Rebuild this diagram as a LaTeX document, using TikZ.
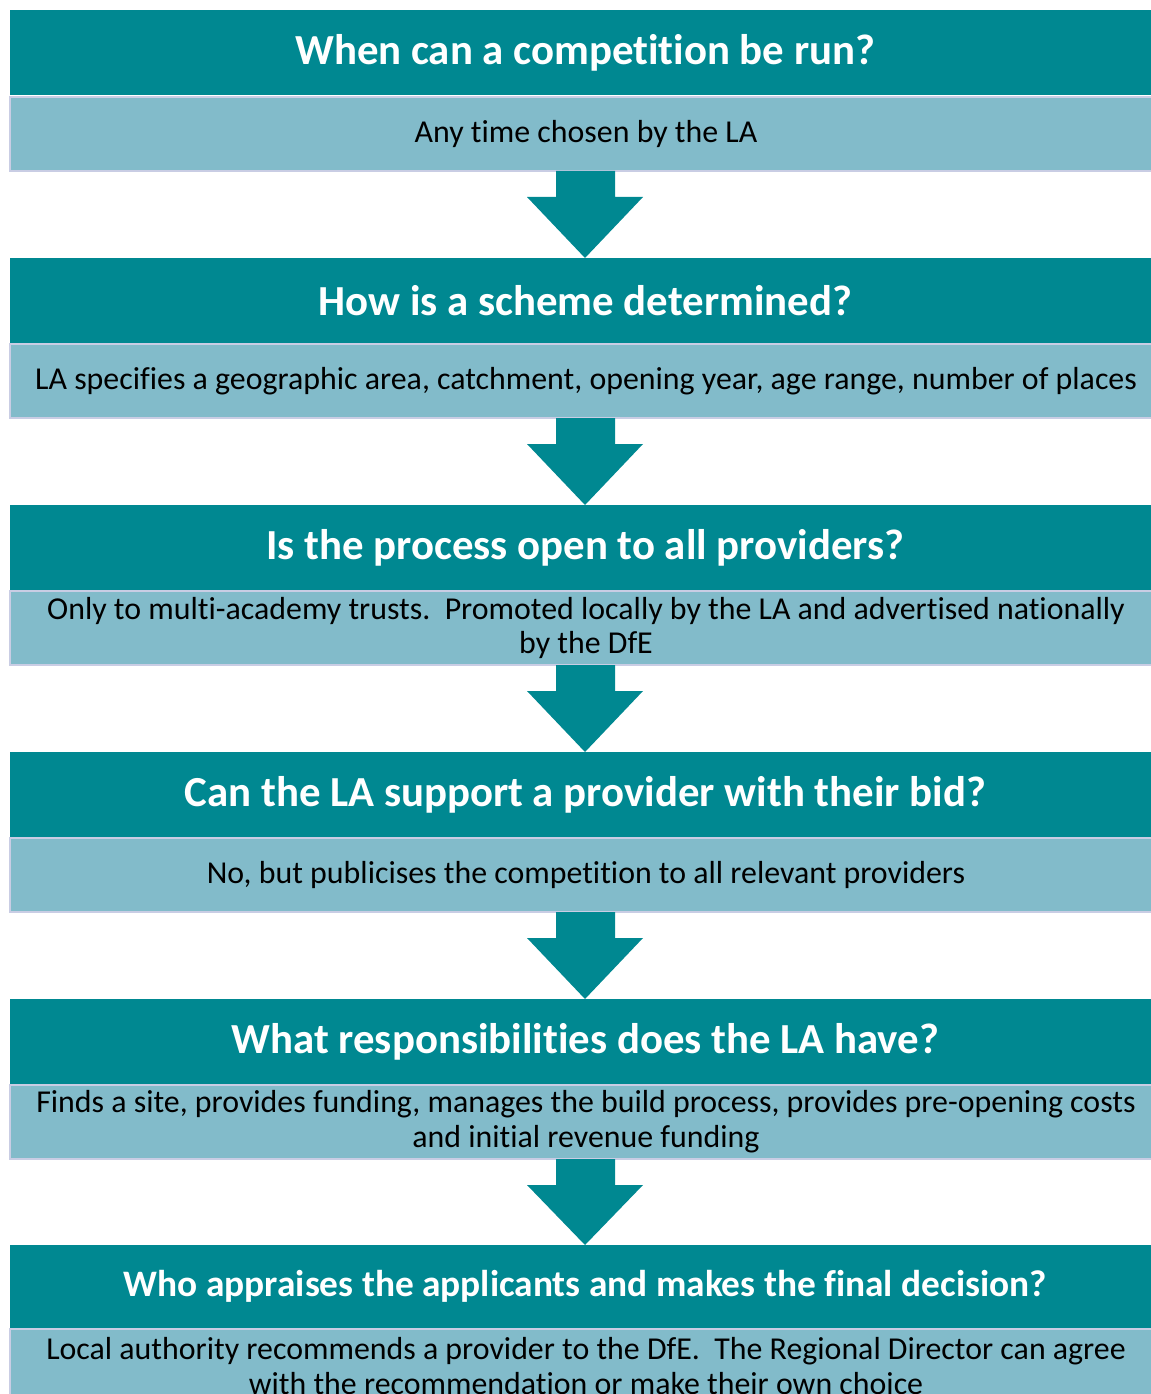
\documentclass[tikz,border=0pt]{standalone}
\usepackage{fontspec}
\setmainfont{Carlito}[Ligatures={NoCommon}]
\definecolor{teal1}{HTML}{008891}
\definecolor{light1}{HTML}{82BBCA}
\definecolor{edge1}{HTML}{C9CDE4}
\begin{document}
\begin{tikzpicture}[x=1bp,y=-1bp,
  head/.style={fill=teal1,draw=none,minimum width=1150bp,minimum height=85bp,inner sep=0pt,
    text=white,font=\fontsize{43}{48}\selectfont\bfseries,anchor=north west},
  body/.style={fill=light1,draw=edge1,line width=2bp,minimum width=1152bp,minimum height=74bp,inner sep=0pt,
    text=black,align=center,font=\fontsize{32}{35}\selectfont,anchor=north west},
  downarrow/.style={fill=teal1,draw=none}]
\useasboundingbox (0,0) rectangle (1150,1394);
\fill[white] (0,0) rectangle (1150,1394);
\def\arr#1#2{\fill[teal1] (556,#1) -- (615,#1) -- (615,#1+26) -- (643,#1+26) -- (585,#2) -- (527,#1+26) -- (556,#1+26) -- cycle;}
\node[head] (h1) at (10,10) {When can a competition be run?};
\node[body] (b1) at (9,96) {Any time chosen by the LA};
\node[head] (h2) at (10,258) {How is a scheme determined?};
\node[body] (b2) at (9,343) {LA specifies a geographic area, catchment, opening year, age range, number of places};
\node[head] (h3) at (10,505) {Is the process open to all providers?};
\node[body] (b3) at (9,590) {Only to multi-academy trusts.\ \ Promoted locally by the LA and advertised nationally\\by the DfE};
\node[head] (h4) at (10,752) {Can the LA support a provider with their bid?};
\node[body] (b4) at (9,837) {No, but publicises the competition to all relevant providers};
\node[head] (h5) at (10,999) {What responsibilities does the LA have?};
\node[body] (b5) at (9,1084) {Finds a site, provides funding, manages the build process, provides pre-opening costs\\and initial revenue funding};
\node[head,font=\fontsize{37.5}{42}\selectfont\bfseries,minimum height=83bp] (h6) at (10,1245) {Who appraises the applicants and makes the final decision?};
\node[body] (b6) at (9,1328) {Local authority recommends a provider to the DfE.\ \ The Regional Director can agree\\with the recommendation or make their own choice};
\arr{171}{258}
\arr{418}{505}
\arr{665}{752}
\arr{912}{999}
\arr{1159}{1245}
\end{tikzpicture}
\end{document}
